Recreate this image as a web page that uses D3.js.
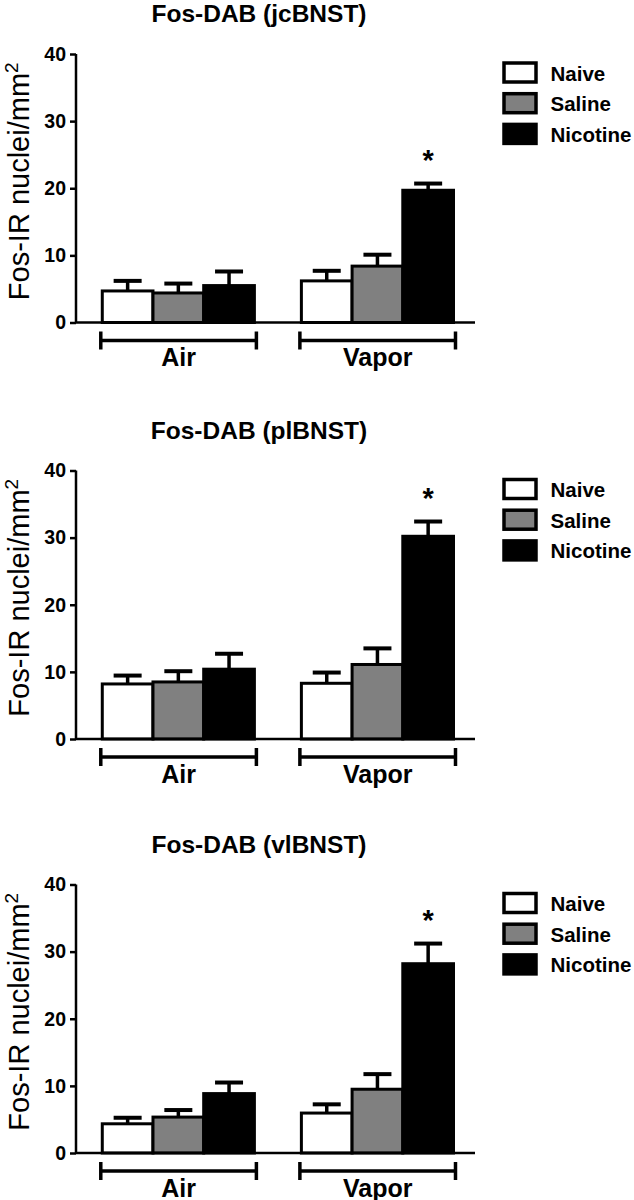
<!DOCTYPE html>
<html><head><meta charset="utf-8">
<script src="https://cdn.jsdelivr.net/npm/d3@7"></script>
<style>
html,body{margin:0;padding:0;background:#fff;}
text{font-family:"Liberation Sans",Arial,sans-serif;fill:#000;}
</style></head>
<body><svg id="c" width="634" height="1200"></svg>
<script>
// ---- data ----
const groups = ["Air", "Vapor"];
const series = ["Naive", "Saline", "Nicotine"];
const titles = ["Fos-DAB (jcBNST)", "Fos-DAB (plBNST)", "Fos-DAB (vlBNST)"];
const yTicks = [0, 10, 20, 30, 40];
const yLabel = "Fos-IR nuclei/mm";
// means [group][series] per panel
const jcMeans = [[4.7, 4.4, 5.5], [6.2, 8.4, 19.7]];
const jcErr   = [[1.5, 1.4, 2.1], [1.5, 1.7, 1.0]];
const plMeans = [[8.2, 8.5, 10.4], [8.3, 11.1, 30.2]];
const plErr   = [[1.25, 1.6, 2.3], [1.6, 2.4, 2.2]];
const vlMeans = [[4.35, 5.35, 8.85], [5.95, 9.5, 28.2]];
const vlErr   = [[0.9, 1.05, 1.65], [1.3, 2.25, 3.0]];
const significant = [["Vapor", "Nicotine"]];

const means = [jcMeans, plMeans, vlMeans];
const errs = [jcErr, plErr, vlErr];

// ---- layout ----
const svg = d3.select("#c");
const fills = {Naive: "#ffffff", Saline: "#808080", Nicotine: "#000000"};
const axisLeft = 76, axisRight = 475;
const panelTops = [54, 470.5, 884.5];
const plotH = 268.5;

const x0 = d3.scaleBand().domain(groups).range([axisLeft, axisRight])
  .paddingInner(0.236).paddingOuter(0.12).align(0.55);
const x1 = d3.scaleBand().domain(series).range([0, x0.bandwidth()]);

panelTops.forEach((top, pi) => {
  const g = svg.append("g");
  const y = d3.scaleLinear().domain([0, 40]).range([top + plotH, top]);
  const y0 = y(0);

  // title
  g.append("text").attr("x", 259).attr("y", top - 32)
    .attr("text-anchor", "middle").attr("font-size", 24.5).attr("font-weight", "bold")
    .text(titles[pi]);

  // y label
  const yl = g.append("text")
    .attr("transform", `translate(29,${(top + y0) / 2 - 7}) rotate(-90)`)
    .attr("text-anchor", "middle").attr("font-size", 29);
  yl.append("tspan").text(yLabel);
  yl.append("tspan").attr("font-size", 19).attr("dy", -11).text("2");

  // bars
  groups.forEach((grp, gi) => {
    series.forEach((s, si) => {
      const v = means[pi][gi][si], e = errs[pi][gi][si];
      const bx = x0(grp) + x1(s);
      const cx = bx + x1.bandwidth() / 2;
      g.append("line").attr("x1", cx).attr("x2", cx)
        .attr("y1", y(v)).attr("y2", y(v + e))
        .attr("stroke", "#000").attr("stroke-width", 3.5);
      g.append("line").attr("x1", cx - 14).attr("x2", cx + 14)
        .attr("y1", y(v + e)).attr("y2", y(v + e))
        .attr("stroke", "#000").attr("stroke-width", 4);
      g.append("rect").attr("x", bx).attr("y", y(v))
        .attr("width", x1.bandwidth()).attr("height", y0 - y(v))
        .attr("fill", fills[s]).attr("stroke", "#000").attr("stroke-width", 3);
    });
  });

  // significance
  significant.forEach(([grp, s]) => {
    const gi = groups.indexOf(grp), si = series.indexOf(s);
    const top2 = means[pi][gi][si] + errs[pi][gi][si];
    g.append("text").attr("x", x0(grp) + x1(s) + x1.bandwidth() / 2)
      .attr("y", y(top2) - 14).attr("text-anchor", "middle")
      .attr("font-size", 29).attr("font-weight", "bold").text("*");
  });

  // y axis
  const ax = g.append("g").attr("transform", `translate(${axisLeft},0)`)
    .call(d3.axisLeft(y).tickValues(yTicks).tickSize(6).tickPadding(4).tickFormat(d3.format("d")));
  ax.select(".domain").attr("stroke-width", 2.5).attr("d", `M0,${y(40)}V${y0}`);
  ax.selectAll(".tick line").attr("stroke-width", 2.5);
  ax.selectAll(".tick text").attr("font-size", 19.5).attr("font-weight", "bold")
    .attr("font-family", "Liberation Sans, Arial, sans-serif").attr("fill", "#000");

  // x axis line
  g.append("line").attr("x1", axisLeft).attr("x2", axisRight)
    .attr("y1", y0).attr("y2", y0).attr("stroke", "#000").attr("stroke-width", 2.5);

  // group brackets
  groups.forEach(grp => {
    const a = x0(grp) - 1.5, b = x0(grp) + x0.bandwidth() + 2;
    const by = y0 + 18;
    g.append("line").attr("x1", a).attr("x2", b).attr("y1", by).attr("y2", by)
      .attr("stroke", "#000").attr("stroke-width", 3.5);
    [a, b].forEach(xx => g.append("line").attr("x1", xx).attr("x2", xx)
      .attr("y1", by - 9).attr("y2", by + 9).attr("stroke", "#000").attr("stroke-width", 3.5));
    g.append("text").attr("x", (a + b) / 2).attr("y", y0 + 43.5)
      .attr("text-anchor", "middle").attr("font-size", 25).attr("font-weight", "bold").text(grp);
  });

  // legend
  series.forEach((s, si) => {
    const ly = top + 9 + si * 30.7;
    g.append("rect").attr("x", 504).attr("y", ly).attr("width", 32).attr("height", 19)
      .attr("fill", fills[s]).attr("stroke", "#000").attr("stroke-width", 3.5);
    g.append("text").attr("x", 550.5).attr("y", ly + 17.5)
      .attr("font-size", 20.5).attr("font-weight", "bold").text(s);
  });
});
</script></body></html>
